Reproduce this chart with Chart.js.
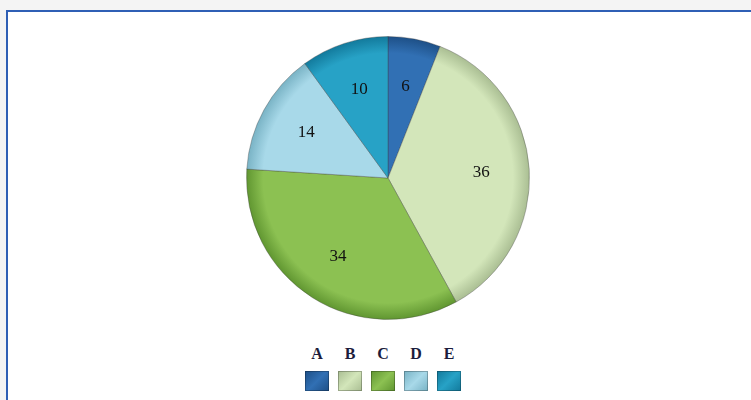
<!DOCTYPE html>
<html>
<head>
<meta charset="utf-8">
<script src="https://cdn.jsdelivr.net/npm/chart.js@4"></script>
<style>
  html, body { margin: 0; padding: 0; background: #f4f4f4; }
  body { width: 751px; height: 400px; position: relative; overflow: hidden; }
  #frame {
    position: absolute; left: 6px; top: 10px; width: 760px; height: 400px;
    background: #fff; border-left: 2px solid #2f5fb5; border-top: 2px solid #2f5fb5;
  }
  #pie-wrap { position: absolute; left: 246px; top: 36px; width: 284px; height: 284px; }
  #legend { position: absolute; left: 305px; top: 344px; display: flex; gap: 9px; }
  .item { width: 24px; text-align: center; font: bold 16px "Liberation Serif", serif; color: #1c1c3c; }
  .item span { display: block; height: 20px; line-height: 20px; }
  .swatch { width: 24px; height: 20px; margin-top: 7px; box-shadow: inset 0 0 0 1px rgba(0,0,0,0.25); }
</style>
</head>
<body>
<div id="frame"></div>
<div id="pie-wrap"><canvas id="pie-chart"></canvas></div>
<div id="legend"></div>
<script>
// chart data
const categories = ['A', 'B', 'C', 'D', 'E'];
const values = [6, 36, 34, 14, 10];
const colors = ['#3170b4', '#d3e6ba', '#8cc152', '#a8d9e9', '#27a2c6'];
const darkColors = ['#1d4f86', '#a9bd92', '#5f9530', '#78b2c4', '#12799b'];

// radial shading so the rim looks a bit raised
function sliceFill(context) {
    const i = context.dataIndex;
    const chart = context.chart;
    const area = chart.chartArea;
    if (!area) return colors[i];
    const cx = (area.left + area.right) / 2;
    const cy = (area.top + area.bottom) / 2;
    const r = Math.min(area.right - area.left, area.bottom - area.top) / 2;
    const g = chart.ctx.createRadialGradient(cx, cy, 0, cx, cy, r);
    g.addColorStop(0, colors[i]);
    g.addColorStop(0.88, colors[i]);
    g.addColorStop(1, darkColors[i]);
    return g;
}

// value labels inside each slice
const sliceLabels = {
    id: 'sliceLabels',
    afterDatasetsDraw(chart) {
        const ctx = chart.ctx;
        const meta = chart.getDatasetMeta(0);
        ctx.save();
        ctx.font = '17px "Liberation Serif", serif';
        ctx.fillStyle = '#111';
        ctx.textAlign = 'center';
        ctx.textBaseline = 'middle';
        meta.data.forEach((arc, i) => {
            const mid = (arc.startAngle + arc.endAngle) / 2;
            const rr = arc.outerRadius * 0.66;
            ctx.fillText(values[i], arc.x + Math.cos(mid) * rr, arc.y + Math.sin(mid) * rr);
        });
        ctx.restore();
    }
};

new Chart(document.getElementById('pie-chart').getContext('2d'), {
    type: 'pie',
    data: {
        labels: categories,
        datasets: [{
            data: values,
            backgroundColor: sliceFill,
            borderColor: 'rgba(60,60,60,0.35)',
            borderWidth: 1,
            hoverOffset: 0
        }]
    },
    options: {
        responsive: true,
        maintainAspectRatio: false,
        animation: false,
        plugins: {
            legend: { display: false },
            tooltip: { enabled: false }
        }
    },
    plugins: [sliceLabels]
});

// legend: letter above a shaded square
const legend = document.getElementById('legend');
categories.forEach((cat, i) => {
    const item = document.createElement('div');
    item.className = 'item';
    item.innerHTML = `<span>${cat}</span>
        <div class="swatch" style="background: linear-gradient(135deg, ${darkColors[i]} 0%, ${colors[i]} 50%, ${darkColors[i]} 100%);"></div>`;
    legend.appendChild(item);
});
</script>
</body>
</html>
